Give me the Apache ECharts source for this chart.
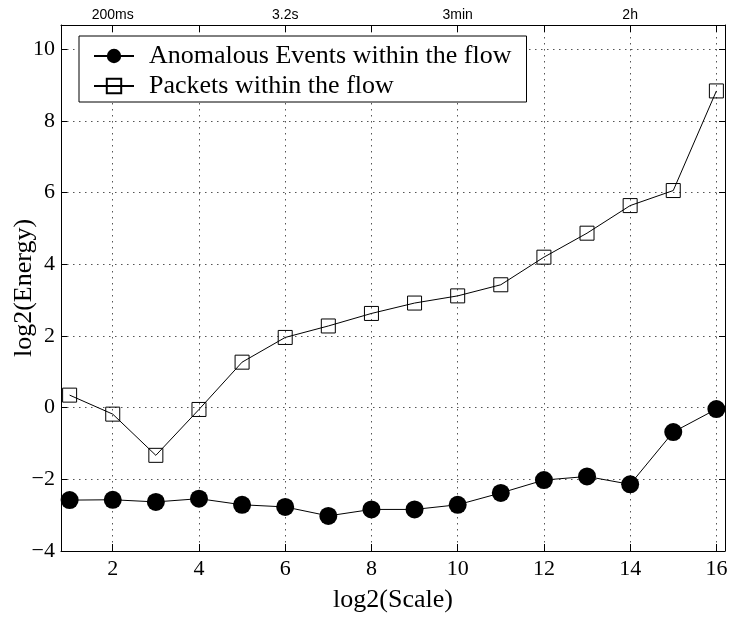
<!DOCTYPE html>
<html>
<head>
<meta charset="utf-8">
<script src="https://cdn.jsdelivr.net/npm/echarts@6/dist/echarts.min.js"></script>
<style>
  html, body { margin: 0; padding: 0; background: #fff; }
  #chart { width: 731px; height: 619px; }
</style>
</head>
<body>
<div id="chart"></div>
<script>
// ---- data ----
const scales = [1, 2, 3, 4, 5, 6, 7, 8, 9, 10, 11, 12, 13, 14, 15, 16];
const anomalous = [-2.58, -2.57, -2.63, -2.54, -2.71, -2.77, -3.02, -2.84, -2.84, -2.71, -2.38, -2.02, -1.92, -2.14, -0.68, -0.04];
const packets = [0.35, -0.18, -1.33, -0.05, 1.27, 1.96, 2.28, 2.63, 2.92, 3.12, 3.43, 4.20, 4.87, 5.64, 6.06, 8.84];
const xTicks = [2, 4, 6, 8, 10, 12, 14, 16];
const yTicks = [-4, -2, 0, 2, 4, 6, 8, 10];
const topTickValues = [2, 6, 10, 14];
const topTickLabels = ['200ms', '3.2s', '3min', '2h'];
const seriesNames = ['Anomalous Events within the flow', 'Packets within the flow'];

const serif = '"Liberation Serif", "Times New Roman", serif';
const sans = '"Liberation Sans", Arial, sans-serif';
const gridLine = { show: true, lineStyle: { color: '#555', width: 1, type: [1.5, 4.5] } };

const chart = echarts.init(document.getElementById('chart'), null, { renderer: 'canvas' });
chart.setOption({
  animation: false,
  backgroundColor: '#fff',
  grid: { left: 61, right: 6, top: 25, bottom: 68, containLabel: false, outerBoundsMode: 'none' },
  legend: {
    orient: 'vertical',
    left: 79, top: 36,
    width: 455,
    padding: [7, 15, 3, 14],
    itemGap: 4,
    itemWidth: 40,
    itemHeight: 18,
    borderColor: '#000', borderWidth: 1, borderRadius: 0,
    backgroundColor: '#fff',
    textStyle: { fontFamily: serif, fontSize: 26, color: '#000', lineHeight: 26, padding: [0, 0, 0, 10] },
    data: seriesNames
  },
  xAxis: [
    {
      type: 'value', position: 'bottom', min: 0.8, max: 16.2,
      name: 'log2(Scale)', nameLocation: 'middle', nameGap: 36,
      nameTextStyle: { fontFamily: serif, fontSize: 26, color: '#000' },
      axisLine: { show: true, onZero: false, lineStyle: { color: '#000', width: 1 } },
      axisTick: { show: true, inside: true, length: 7, customValues: xTicks, lineStyle: { color: '#000' } },
      axisLabel: { customValues: xTicks, fontFamily: serif, fontSize: 22, color: '#000', margin: 7 },
      splitLine: gridLine
    },
    {
      type: 'value', position: 'top', min: 0.8, max: 16.2,
      axisLine: { show: true, onZero: false, lineStyle: { color: '#000', width: 1 } },
      axisTick: { show: true, inside: true, length: 7, customValues: xTicks, lineStyle: { color: '#000' } },
      axisLabel: {
        customValues: topTickValues, fontFamily: sans, fontSize: 14, color: '#000', margin: 3,
        formatter: v => topTickLabels[topTickValues.indexOf(v)] || ''
      },
      splitLine: { show: false }
    }
  ],
  yAxis: [
    {
      type: 'value', position: 'left', min: -4, max: 10.68,
      name: 'log2(Energy)', nameLocation: 'middle', nameGap: 24, nameRotate: 90, nameMoveOverlap: false,
      nameTextStyle: { fontFamily: serif, fontSize: 26, color: '#000' },
      axisLine: { show: true, onZero: false, lineStyle: { color: '#000', width: 1 } },
      axisTick: { show: true, inside: true, length: 6, customValues: yTicks, lineStyle: { color: '#000' } },
      axisLabel: {
        customValues: yTicks, fontFamily: serif, fontSize: 22, color: '#000', margin: 6,
        formatter: v => String(v).replace('-', '\u2212')
      },
      splitLine: gridLine
    },
    {
      type: 'value', position: 'right', min: -4, max: 10.68,
      axisLine: { show: true, onZero: false, lineStyle: { color: '#000', width: 1 } },
      axisTick: { show: true, inside: true, length: 6, customValues: yTicks, lineStyle: { color: '#000' } },
      axisLabel: { show: false },
      splitLine: { show: false }
    }
  ],
  series: [
    {
      name: seriesNames[0], type: 'line',
      data: scales.map((x, i) => [x, anomalous[i]]),
      symbol: 'circle', symbolSize: 18, showAllSymbol: true,
      lineStyle: { color: '#000', width: 1 },
      itemStyle: { color: '#000' },
      z: 3
    },
    {
      name: seriesNames[1], type: 'line',
      data: scales.map((x, i) => [x, packets[i]]),
      symbol: 'rect', symbolSize: 14, showAllSymbol: true,
      lineStyle: { color: '#000', width: 1 },
      itemStyle: { color: 'rgba(255,255,255,0)', borderColor: '#000', borderWidth: 1 },
      z: 3
    }
  ]
});
</script>
</body>
</html>
